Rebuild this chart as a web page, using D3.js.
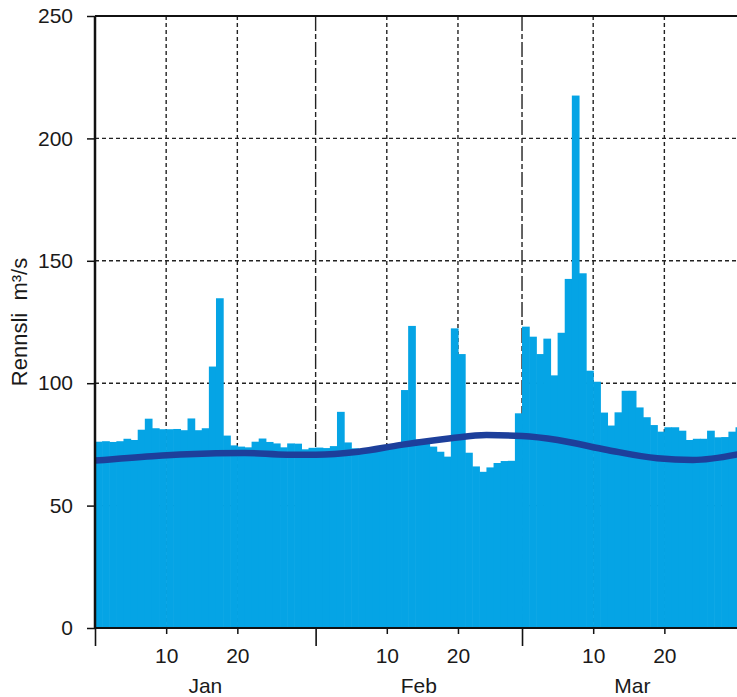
<!DOCTYPE html>
<html lang="no">
  <head>
    <meta charset="UTF-8" />
    <title>Rennsli</title>
    <style type="text/css">
      body { margin: 0; background: #fff; }
      text { font-family: 'Liberation Sans', Arial, sans-serif; fill: #1a1a1a; }
    </style>
    <script src="https://d3js.org/d3.v7.min.js"></script>
  </head>
  <body>
    <div class="d3Chart"></div>
    <script type="text/javascript">
      var months = ['Jan', 'Feb', 'Mar']
      var monthDays = [31, 29, 31]
      var dayTicks = [10, 20]
      var yTicks = [0, 50, 100, 150, 200, 250]

      // daglig rennsli m3/s
      var flowJan = [76.1, 76.3, 76.0, 76.3, 77.3, 76.8, 81.0, 85.5, 81.6, 81.2, 81.2, 81.3, 80.8, 85.6, 80.8, 81.6,
        106.8, 134.7, 78.6, 74.6, 74.1, 73.8, 76.1, 77.4, 76.0, 75.4, 73.8, 75.4, 75.3, 73.0, 73.6]
      var flowFeb = [73.7, 73.5, 74.3, 88.3, 75.8, 73.4, 72.7, 72.5, 72.5, 73.0, 73.5, 74.0, 97.2, 123.4, 77.0, 76.2,
        74.1, 72.0, 70.0, 122.4, 111.9, 71.6, 66.0, 63.8, 65.6, 67.4, 68.2, 68.3, 87.7]
      var flowMar = [123.1, 119.0, 111.9, 118.2, 103.2, 120.6, 142.6, 217.5, 144.9, 105.1, 100.6, 88.0, 82.7, 88.1,
        96.9, 96.9, 90.1, 86.1, 82.9, 80.2, 82.0, 82.0, 80.6, 76.8, 77.3, 77.3, 80.6, 77.9, 78.0, 80.2, 82.0]

      // middelrennsli (glatt kurve)
      var normalDates = ['2000-01-01', '2000-01-09', '2000-01-14', '2000-01-22', '2000-01-28', '2000-02-01', '2000-02-07',
        '2000-02-13', '2000-02-20', '2000-02-25', '2000-03-01', '2000-03-06', '2000-03-13', '2000-03-20', '2000-03-25', '2000-04-01']
      var normalValues = [68.4, 70.2, 71.0, 71.5, 70.8, 70.8, 72.0, 74.8, 77.5, 78.8, 78.4, 76.8, 72.7, 69.3, 68.6, 71.3]

      var width = 737
      var height = 697
      var year = 2000

      var flow = flowJan.concat(flowFeb, flowMar)
      var days = flow.map((v, i) => ({ date: new Date(Date.UTC(year, 0, 1 + i)), value: v }))

      var x = d3
        .scaleUtc()
        .domain([new Date(Date.UTC(year, 0, 1)), new Date(Date.UTC(year, months.length, 1))])
        .range([95, 95 + 91 * 7.117])
      var y = d3.scaleLinear().domain([0, 250]).range([628, 16])

      var svg = d3
        .select('.d3Chart')
        .append('svg')
        .attr('width', width)
        .attr('height', height)
        .style('display', 'block')

      var monthStarts = months.map((m, i) => new Date(Date.UTC(year, i, 1)))
      var dayTickDates = []
      months.forEach((m, i) => dayTicks.forEach((d) => dayTickDates.push(new Date(Date.UTC(year, i, d + 1)))))

      // rutenett
      var grid = svg.append('g').attr('stroke', '#222').attr('stroke-width', 1.4).attr('fill', 'none')
      grid
        .selectAll()
        .data(yTicks.filter((t) => t > 0 && t < 250))
        .enter()
        .append('line')
        .attr('x1', x.range()[0])
        .attr('x2', width)
        .attr('y1', (d) => y(d))
        .attr('y2', (d) => y(d))
        .attr('stroke-dasharray', '4 3')
      grid
        .selectAll()
        .data(dayTickDates)
        .enter()
        .append('line')
        .attr('x1', (d) => x(d))
        .attr('x2', (d) => x(d))
        .attr('y1', y(250))
        .attr('y2', y(0))
        .attr('stroke-dasharray', '4 3')
      grid
        .selectAll()
        .data(monthStarts.slice(1))
        .enter()
        .append('line')
        .attr('x1', (d) => x(d))
        .attr('x2', (d) => x(d))
        .attr('y1', y(250))
        .attr('y2', y(0))
        .attr('stroke-dasharray', '15 3 5 3')

      // søyler
      var dayW = x(days[1].date) - x(days[0].date)
      svg
        .append('g')
        .attr('fill', '#05a4e5')
        .selectAll()
        .data(days)
        .enter()
        .append('rect')
        .attr('x', (d) => x(d.date))
        .attr('y', (d) => y(d.value))
        .attr('width', dayW + 0.6)
        .attr('height', (d) => y(0) - y(d.value))

      // middelkurve
      var normal = normalDates.map((d, i) => ({ date: new Date(Date.parse(d)), value: normalValues[i] }))
      var line = d3
        .line()
        .x((d) => x(d.date))
        .y((d) => y(d.value))
        .curve(d3.curveMonotoneX)
      svg
        .append('path')
        .datum(normal)
        .attr('fill', 'none')
        .attr('stroke', '#1d3f9b')
        .attr('stroke-width', 6.5)
        .attr('d', line)

      // akser
      var yAxis = svg
        .append('g')
        .attr('transform', `translate(${x.range()[0]},0)`)
        .call(d3.axisLeft(y).tickValues(yTicks).tickSize(8).tickPadding(14))
      yAxis.select('.domain').attr('stroke', '#111').attr('stroke-width', 2.5).attr('d', `M0,${y(250)}V${y(0)}`)
      yAxis.selectAll('.tick line').attr('stroke', '#111').attr('stroke-width', 1.5)
      yAxis.selectAll('text').attr('font-size', 21).attr('font-family', null).attr('fill', '#1a1a1a')

      svg
        .append('line')
        .attr('x1', x.range()[0])
        .attr('x2', width)
        .attr('y1', y(250))
        .attr('y2', y(250))
        .attr('stroke', '#111')
        .attr('stroke-width', 2.2)

      var xAxis = svg
        .append('g')
        .attr('transform', `translate(0,${y(0)})`)
        .call(
          d3
            .axisBottom(x)
            .tickValues(dayTickDates)
            .tickSize(6)
            .tickPadding(14)
            .tickFormat((d) => d.getUTCDate() - 1)
        )
      xAxis.select('.domain').attr('stroke', '#111').attr('stroke-width', 2).attr('d', `M${x.range()[0]},0H${width}`)
      xAxis.selectAll('.tick line').attr('stroke', '#111').attr('stroke-width', 1.5)
      xAxis.selectAll('text').attr('font-size', 21).attr('font-family', null).attr('fill', '#1a1a1a')

      var mAxis = svg
        .append('g')
        .attr('transform', `translate(0,${y(0)})`)
        .call(d3.axisBottom(x).tickValues(monthStarts).tickSize(18).tickFormat(''))
      mAxis.select('.domain').remove()
      mAxis.selectAll('.tick line').attr('stroke', '#111').attr('stroke-width', 1.6)

      svg
        .append('g')
        .selectAll()
        .data(months)
        .enter()
        .append('text')
        .attr('x', (d, i) => (x(monthStarts[i]) + x(new Date(Date.UTC(year, i, 1 + monthDays[i])))) / 2)
        .attr('y', 693)
        .attr('text-anchor', 'middle')
        .attr('font-size', 21)
        .text((d) => d)

      svg
        .append('text')
        .attr('transform', 'translate(27,322) rotate(-90)')
        .attr('text-anchor', 'middle')
        .attr('font-size', 22)
        .text('Rennsli\u00a0\u00a0m³/s')
    </script>
  </body>
</html>
